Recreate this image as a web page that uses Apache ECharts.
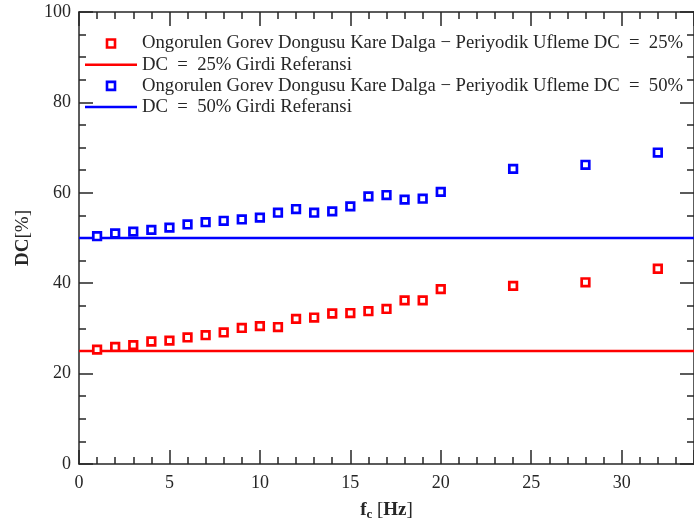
<!DOCTYPE html>
<html>
<head>
<meta charset="utf-8">
<script src="https://cdn.jsdelivr.net/npm/echarts@6/dist/echarts.min.js"></script>
<style>html,body{margin:0;padding:0;background:#fff;}#c{width:694px;height:526px;}</style>
</head>
<body>
<div id="c"></div>
<script>
var freqs = [1,2,3,4,5,6,7,8,9,10,11,12,13,14,15,16,17,18,19,20,24,28,32];
var dc25 = [25.3,25.9,26.3,27.1,27.3,28.0,28.5,29.1,30.1,30.5,30.3,32.1,32.4,33.3,33.4,33.8,34.3,36.2,36.2,38.7,39.4,40.2,43.2];
var dc50 = [50.4,51.0,51.4,51.8,52.3,53.0,53.5,53.8,54.1,54.5,55.6,56.4,55.6,55.9,57.0,59.2,59.5,58.5,58.7,60.2,65.3,66.2,68.9];
var ref25 = 25, ref50 = 50;
var xRange = [0, 34];
var yRange = [0, 100];
var names = [
  'Ongorulen Gorev Dongusu Kare Dalga \u2212 Periyodik Ufleme DC  =  25%',
  'DC  =  25% Girdi Referansi',
  'Ongorulen Gorev Dongusu Kare Dalga \u2212 Periyodik Ufleme DC  =  50%',
  'DC  =  50% Girdi Referansi'
];

var FONT = '"Liberation Serif", "DejaVu Serif", serif';
var AX = '#262626';
function pairs(xs, ys){ return xs.map(function(x,i){ return [x, ys[i]]; }); }

var chart = echarts.init(document.getElementById('c'));
var sq = 'path://M0,0L10,0L10,10L0,10Z';
var ln = 'path://M0,0L52,0L52,2.5L0,2.5Z';
var axisCommon = {
  axisLine: {show: true, onZero: false, lineStyle: {color: AX, width: 1.5}},
  axisTick: {show: true, inside: true, length: 14, lineStyle: {color: AX, width: 1.5}},
  splitLine: {show: false}
};
function mk(base, extra){ return Object.assign({}, JSON.parse(JSON.stringify(base)), extra); }
function minor(n){ return {show: true, splitNumber: n, length: 7, lineStyle: {color: AX, width: 1.5}}; }

chart.setOption({
  animation: false,
  backgroundColor: '#fff',
  grid: {left: 79, top: 12, width: 620, height: 453},
  legend: {
    orient: 'vertical', left: 80, top: 29,
    itemWidth: 52, itemHeight: 8, itemGap: 2.2,
    textStyle: {fontFamily: FONT, fontSize: 18.7, color: AX, lineHeight: 16},
    data: [
      {name: names[0], icon: sq, itemStyle: {color: '#fff', borderColor: '#ff0000', borderWidth: 2.6}},
      {name: names[1], icon: ln, itemStyle: {color: '#ff0000', borderWidth: 0}},
      {name: names[2], icon: sq, itemStyle: {color: '#fff', borderColor: '#0000ff', borderWidth: 2.6}},
      {name: names[3], icon: ln, itemStyle: {color: '#0000ff', borderWidth: 0}}
    ]
  },
  xAxis: [
    mk(axisCommon, {type: 'value', min: xRange[0], max: xRange[1], interval: 5, minorTick: minor(5),
      axisLabel: {fontFamily: FONT, fontSize: 18, color: AX, margin: 10, showMaxLabel: false},
      name: '{b|f}{s|c} [{b|Hz}]', nameLocation: 'middle', nameGap: 36,
      nameTextStyle: {fontFamily: FONT, fontSize: 19, color: AX, rich: {b: {fontFamily: FONT, fontSize: 19, fontWeight: 'bold', color: AX}, s: {fontFamily: FONT, fontSize: 13, fontWeight: 'bold', color: AX, verticalAlign: 'bottom', padding: [8,0,0,0]}}}}),
    mk(axisCommon, {type: 'value', position: 'top', min: xRange[0], max: xRange[1], interval: 5, minorTick: minor(5), axisLabel: {show: false}})
  ],
  yAxis: [
    mk(axisCommon, {type: 'value', min: yRange[0], max: yRange[1], interval: 20, minorTick: minor(4),
      axisLabel: {fontFamily: FONT, fontSize: 18, color: AX, margin: 8},
      name: '{b|DC}[%]', nameLocation: 'middle', nameGap: 46,
      nameTextStyle: {fontFamily: FONT, fontSize: 19, color: AX, rich: {b: {fontFamily: FONT, fontSize: 19, fontWeight: 'bold', color: AX}}}}),
    mk(axisCommon, {type: 'value', position: 'right', min: yRange[0], max: yRange[1], interval: 20, minorTick: minor(4), axisLabel: {show: false}})
  ],
  series: [
    {name: names[0], type: 'scatter', data: pairs(freqs, dc25), symbol: 'rect', symbolSize: 7.6,
      itemStyle: {color: '#fff', borderColor: '#ff0000', borderWidth: 2.7, opacity: 1}, z: 5},
    {name: names[1], type: 'line', data: [[xRange[0], ref25], [xRange[1], ref25]], symbol: 'none', showSymbol: false,
      lineStyle: {color: '#ff0000', width: 2.5}, itemStyle: {color: '#ff0000'}, z: 3},
    {name: names[2], type: 'scatter', data: pairs(freqs, dc50), symbol: 'rect', symbolSize: 7.6,
      itemStyle: {color: '#fff', borderColor: '#0000ff', borderWidth: 2.7, opacity: 1}, z: 5},
    {name: names[3], type: 'line', data: [[xRange[0], ref50], [xRange[1], ref50]], symbol: 'none', showSymbol: false,
      lineStyle: {color: '#0000ff', width: 2.5}, itemStyle: {color: '#0000ff'}, z: 3}
  ]
});
</script>
</body>
</html>
